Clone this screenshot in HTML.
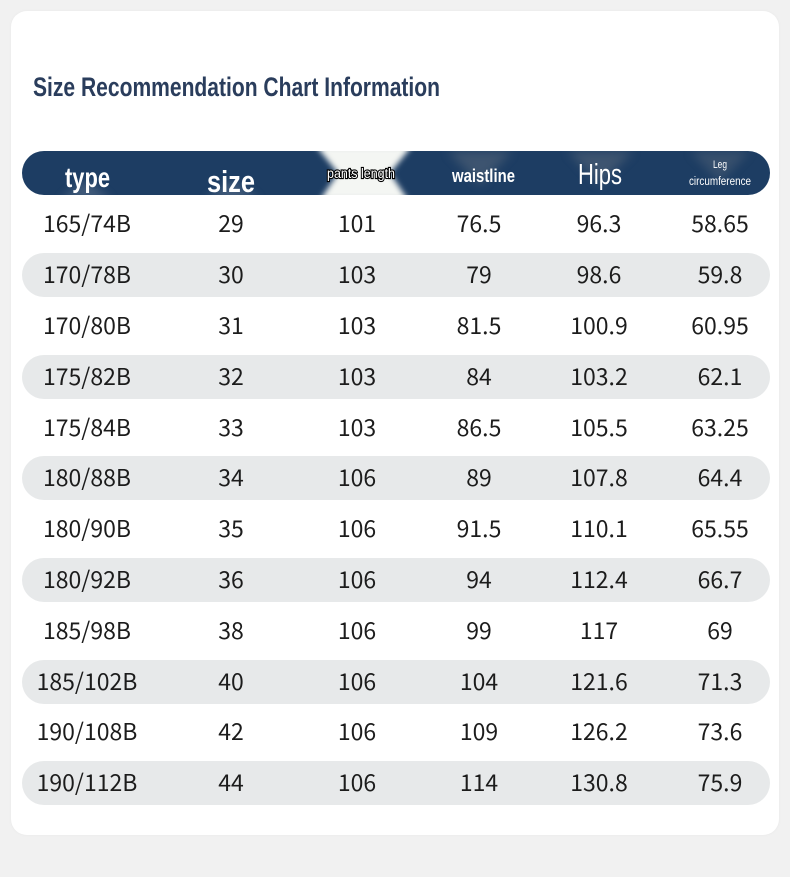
<!DOCTYPE html>
<html><head><meta charset="utf-8">
<style>
html,body{margin:0;padding:0;}
body{width:790px;height:877px;background:#f1f1f1;position:relative;overflow:hidden;font-family:"Liberation Sans","Noto Sans CJK SC",sans-serif;}
.card{position:absolute;left:11px;top:11px;width:768px;height:824px;background:#fff;border-radius:16px;box-shadow:0 0 3px rgba(0,0,0,0.04);}
.row{position:absolute;left:22px;width:748px;height:44px;border-radius:22px;}
.g{background:#e7e9ea;}
.c{position:absolute;top:-2px;width:130px;margin-left:-65px;text-align:center;line-height:44px;font-family:"Noto Sans CJK SC","Liberation Sans",sans-serif;font-size:23px;color:#1c1c1c;}
svg{position:absolute;left:0;top:0;}
</style></head><body>
<div class="card"></div>
<svg width="790" height="877" viewBox="0 0 790 877">
<defs>
<filter id="bl" x="-20%" y="-20%" width="140%" height="140%"><feGaussianBlur stdDeviation="3"/></filter>
<filter id="bl2" x="-20%" y="-20%" width="140%" height="140%"><feGaussianBlur stdDeviation="5"/></filter>
<clipPath id="hc"><rect x="22" y="151" width="748" height="44" rx="22" ry="22"/></clipPath>
</defs>
<text x="33" y="96" font-family="Liberation Sans, sans-serif" font-weight="bold" font-size="27" fill="#2a3d5c" textLength="407" lengthAdjust="spacingAndGlyphs">Size Recommendation Chart Information</text>
<g clip-path="url(#hc)">
<rect x="22" y="151" width="748" height="44" fill="#1d3d63"/>
<polygon points="448,151 512,151 480,185" fill="#59677a" opacity="0.55" filter="url(#bl2)"/>
<polygon points="568,151 633,151 600,185" fill="#59677a" opacity="0.55" filter="url(#bl2)"/>
<polygon points="690,151 750,151 720,182" fill="#59677a" opacity="0.45" filter="url(#bl2)"/>
<polygon points="60,200 112,200 86,180" fill="#8d9aab" opacity="0.35" filter="url(#bl2)"/>
<polygon points="205,200 260,200 232,180" fill="#8d9aab" opacity="0.35" filter="url(#bl2)"/>
<polygon points="316,146 412,146 390,173 408,200 320,200 338,173" fill="#f4f6f3" filter="url(#bl)"/>
</g>
<g fill="#fff" font-family="Liberation Sans, sans-serif">
<text x="65" y="187" font-size="28" font-weight="bold" textLength="45" lengthAdjust="spacingAndGlyphs">type</text>
<text x="207" y="192" font-size="31" font-weight="bold" textLength="48" lengthAdjust="spacingAndGlyphs">size</text>
<text x="327" y="178" font-size="13.5" stroke="#000" stroke-width="2.2" paint-order="stroke" textLength="68" lengthAdjust="spacingAndGlyphs">pants length</text>
<text x="452" y="182" font-size="18" font-weight="bold" textLength="63" lengthAdjust="spacingAndGlyphs">waistline</text>
<text x="578" y="184" font-size="29" textLength="44" lengthAdjust="spacingAndGlyphs">Hips</text>
<text x="713" y="168" font-size="11" textLength="14" lengthAdjust="spacingAndGlyphs">Leg</text>
<text x="689" y="185" font-size="11.5" textLength="62" lengthAdjust="spacingAndGlyphs">circumference</text>
</g>
</svg>

<div class="row" style="top:202.3px"><span class="c" style="left:65px">165/74B</span><span class="c" style="left:209px">29</span><span class="c" style="left:335px">101</span><span class="c" style="left:457px">76.5</span><span class="c" style="left:577px">96.3</span><span class="c" style="left:698px">58.65</span></div>
<div class="row g" style="top:253.1px"><span class="c" style="left:65px">170/78B</span><span class="c" style="left:209px">30</span><span class="c" style="left:335px">103</span><span class="c" style="left:457px">79</span><span class="c" style="left:577px">98.6</span><span class="c" style="left:698px">59.8</span></div>
<div class="row" style="top:303.9px"><span class="c" style="left:65px">170/80B</span><span class="c" style="left:209px">31</span><span class="c" style="left:335px">103</span><span class="c" style="left:457px">81.5</span><span class="c" style="left:577px">100.9</span><span class="c" style="left:698px">60.95</span></div>
<div class="row g" style="top:354.7px"><span class="c" style="left:65px">175/82B</span><span class="c" style="left:209px">32</span><span class="c" style="left:335px">103</span><span class="c" style="left:457px">84</span><span class="c" style="left:577px">103.2</span><span class="c" style="left:698px">62.1</span></div>
<div class="row" style="top:405.5px"><span class="c" style="left:65px">175/84B</span><span class="c" style="left:209px">33</span><span class="c" style="left:335px">103</span><span class="c" style="left:457px">86.5</span><span class="c" style="left:577px">105.5</span><span class="c" style="left:698px">63.25</span></div>
<div class="row g" style="top:456.3px"><span class="c" style="left:65px">180/88B</span><span class="c" style="left:209px">34</span><span class="c" style="left:335px">106</span><span class="c" style="left:457px">89</span><span class="c" style="left:577px">107.8</span><span class="c" style="left:698px">64.4</span></div>
<div class="row" style="top:507.1px"><span class="c" style="left:65px">180/90B</span><span class="c" style="left:209px">35</span><span class="c" style="left:335px">106</span><span class="c" style="left:457px">91.5</span><span class="c" style="left:577px">110.1</span><span class="c" style="left:698px">65.55</span></div>
<div class="row g" style="top:557.9px"><span class="c" style="left:65px">180/92B</span><span class="c" style="left:209px">36</span><span class="c" style="left:335px">106</span><span class="c" style="left:457px">94</span><span class="c" style="left:577px">112.4</span><span class="c" style="left:698px">66.7</span></div>
<div class="row" style="top:608.7px"><span class="c" style="left:65px">185/98B</span><span class="c" style="left:209px">38</span><span class="c" style="left:335px">106</span><span class="c" style="left:457px">99</span><span class="c" style="left:577px">117</span><span class="c" style="left:698px">69</span></div>
<div class="row g" style="top:659.5px"><span class="c" style="left:65px">185/102B</span><span class="c" style="left:209px">40</span><span class="c" style="left:335px">106</span><span class="c" style="left:457px">104</span><span class="c" style="left:577px">121.6</span><span class="c" style="left:698px">71.3</span></div>
<div class="row" style="top:710.3px"><span class="c" style="left:65px">190/108B</span><span class="c" style="left:209px">42</span><span class="c" style="left:335px">106</span><span class="c" style="left:457px">109</span><span class="c" style="left:577px">126.2</span><span class="c" style="left:698px">73.6</span></div>
<div class="row g" style="top:761.1px"><span class="c" style="left:65px">190/112B</span><span class="c" style="left:209px">44</span><span class="c" style="left:335px">106</span><span class="c" style="left:457px">114</span><span class="c" style="left:577px">130.8</span><span class="c" style="left:698px">75.9</span></div>
</body></html>
